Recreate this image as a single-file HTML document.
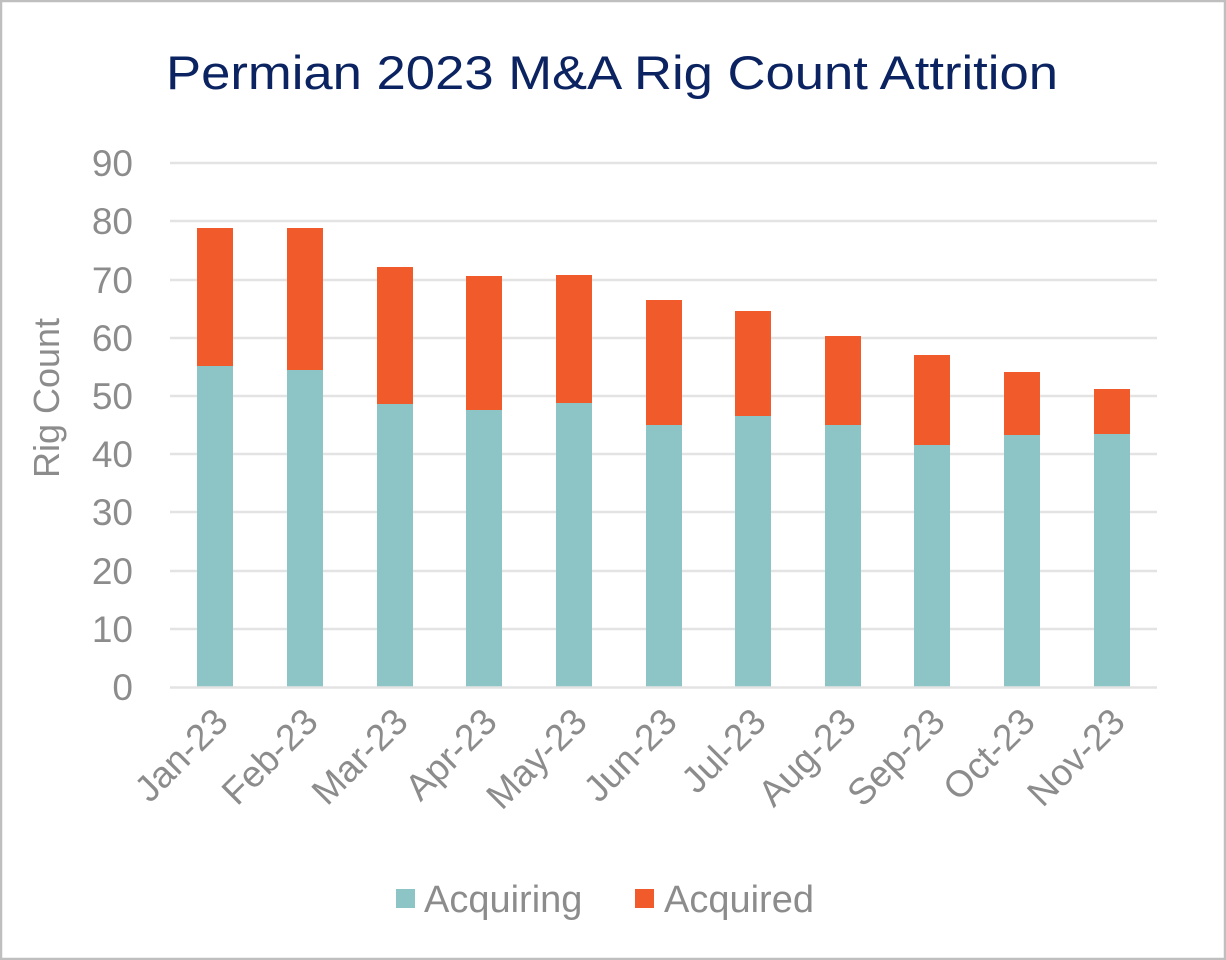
<!DOCTYPE html>
<html><head><style>html,body{margin:0;padding:0;background:#fff}svg{display:block}</style></head>
<body>
<svg width="1226" height="960" xmlns="http://www.w3.org/2000/svg" font-family="Liberation Sans, sans-serif">
<rect x="1" y="1" width="1224" height="958" fill="#fff" stroke="#bfbfbf" stroke-width="2.5"/>
<text x="612" y="89" text-anchor="middle" font-size="47" fill="#0b2361" textLength="892" lengthAdjust="spacingAndGlyphs">Permian 2023 M&amp;A Rig Count Attrition</text>
<g stroke="#e3e3e3" stroke-width="2.5">
<line x1="170" x2="1157" y1="163" y2="163"/><line x1="170" x2="1157" y1="221" y2="221"/>
<line x1="170" x2="1157" y1="280" y2="280"/><line x1="170" x2="1157" y1="338" y2="338"/>
<line x1="170" x2="1157" y1="396" y2="396"/><line x1="170" x2="1157" y1="454" y2="454"/>
<line x1="170" x2="1157" y1="512" y2="512"/><line x1="170" x2="1157" y1="571" y2="571"/>
<line x1="170" x2="1157" y1="629" y2="629"/>
</g>
<g font-size="37" fill="#8c8c8c" text-anchor="end">
<text x="133" y="176">90</text><text x="133" y="234">80</text><text x="133" y="293">70</text>
<text x="133" y="351">60</text><text x="133" y="409">50</text><text x="133" y="467">40</text>
<text x="133" y="525">30</text><text x="133" y="584">20</text><text x="133" y="642">10</text>
<text x="133" y="700">0</text>
</g>
<text transform="translate(59,398) rotate(-90)" text-anchor="middle" font-size="36" fill="#8c8c8c">Rig Count</text>
<g>
<rect x="197" y="228" width="36" height="138" fill="#f15a2b"/><rect x="197" y="366" width="36" height="321" fill="#8dc5c6"/>
<rect x="287" y="228" width="36" height="142" fill="#f15a2b"/><rect x="287" y="370" width="36" height="317" fill="#8dc5c6"/>
<rect x="377" y="267" width="36" height="137" fill="#f15a2b"/><rect x="377" y="404" width="36" height="283" fill="#8dc5c6"/>
<rect x="466" y="276" width="36" height="134" fill="#f15a2b"/><rect x="466" y="410" width="36" height="277" fill="#8dc5c6"/>
<rect x="556" y="275" width="36" height="128" fill="#f15a2b"/><rect x="556" y="403" width="36" height="284" fill="#8dc5c6"/>
<rect x="646" y="300" width="36" height="125" fill="#f15a2b"/><rect x="646" y="425" width="36" height="262" fill="#8dc5c6"/>
<rect x="735" y="311" width="36" height="105" fill="#f15a2b"/><rect x="735" y="416" width="36" height="271" fill="#8dc5c6"/>
<rect x="825" y="336" width="36" height="89" fill="#f15a2b"/><rect x="825" y="425" width="36" height="262" fill="#8dc5c6"/>
<rect x="914" y="355" width="36" height="90" fill="#f15a2b"/><rect x="914" y="445" width="36" height="242" fill="#8dc5c6"/>
<rect x="1004" y="372" width="36" height="63" fill="#f15a2b"/><rect x="1004" y="435" width="36" height="252" fill="#8dc5c6"/>
<rect x="1094" y="389" width="36" height="45" fill="#f15a2b"/><rect x="1094" y="434" width="36" height="253" fill="#8dc5c6"/>
</g>
<line x1="170" x2="1157" y1="687.5" y2="687.5" stroke="#e3e3e3" stroke-width="2.5"/>
<g font-size="37" fill="#8c8c8c" text-anchor="end">
<text transform="translate(230,724) rotate(-45)">Jan-23</text>
<text transform="translate(320,724) rotate(-45)">Feb-23</text>
<text transform="translate(410,724) rotate(-45)">Mar-23</text>
<text transform="translate(499,724) rotate(-45)">Apr-23</text>
<text transform="translate(589,724) rotate(-45)">May-23</text>
<text transform="translate(679,724) rotate(-45)">Jun-23</text>
<text transform="translate(768,724) rotate(-45)">Jul-23</text>
<text transform="translate(858,724) rotate(-45)">Aug-23</text>
<text transform="translate(947,724) rotate(-45)">Sep-23</text>
<text transform="translate(1037,724) rotate(-45)">Oct-23</text>
<text transform="translate(1127,724) rotate(-45)">Nov-23</text>
</g>
<rect x="396" y="889" width="19" height="19" fill="#8dc5c6"/>
<text x="424" y="912" font-size="38" fill="#8c8c8c">Acquiring</text>
<rect x="635" y="889" width="19" height="19" fill="#f15a2b"/>
<text x="664" y="912" font-size="38" fill="#8c8c8c">Acquired</text>
</svg>
</body></html>
